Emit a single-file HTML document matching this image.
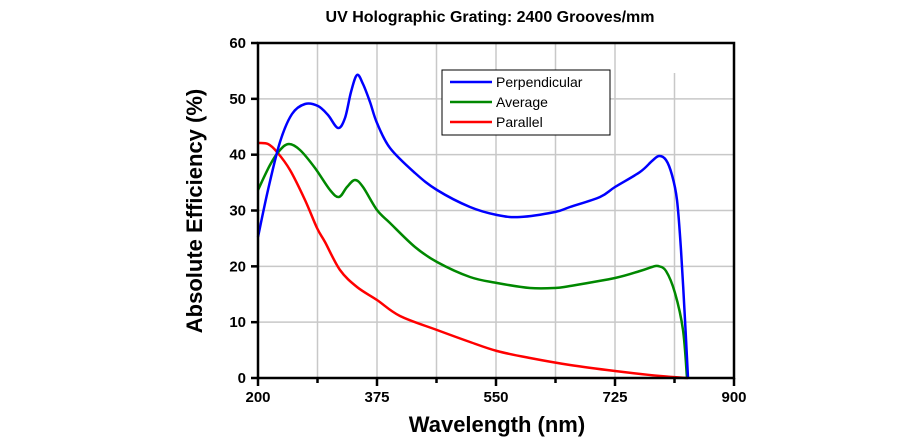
<!DOCTYPE html>
<html><head><meta charset="utf-8"><style>body{margin:0;background:#fff}svg{display:block}</style></head>
<body>
<svg id="s" width="924" height="440" xmlns="http://www.w3.org/2000/svg" font-family="Liberation Sans, Arial, sans-serif">
<rect width="924" height="440" fill="#fff"/>
<g id="grid" stroke="#c8c8c8" stroke-width="1.5"></g>
<g id="curves" fill="none" stroke-width="2.5" stroke-linejoin="round"></g>
<rect x="258" y="43" width="476" height="335" fill="none" stroke="#000" stroke-width="2.5"/>
<g id="ticks" stroke="#000" stroke-width="2.5"></g>
<g id="labels" font-weight="bold" font-size="15" fill="#000"></g>
<text x="490" y="22" text-anchor="middle" font-weight="bold" font-size="16">UV Holographic Grating: 2400 Grooves/mm</text>
<text x="497" y="432" text-anchor="middle" font-weight="bold" font-size="22">Wavelength (nm)</text>
<text transform="translate(202,211) rotate(-90)" text-anchor="middle" font-weight="bold" font-size="22">Absolute Efficiency (%)</text>
<rect x="442" y="70" width="168" height="65" fill="#fff" stroke="#000" stroke-width="1"/>
<line x1="450" y1="82" x2="492" y2="82" stroke="#00f" stroke-width="2.5"/>
<line x1="450" y1="102" x2="492" y2="102" stroke="#080" stroke-width="2.5"/>
<line x1="450" y1="122" x2="492" y2="122" stroke="#f00" stroke-width="2.5"/>
<text x="496" y="87" font-size="14">Perpendicular</text>
<text x="496" y="107" font-size="14">Average</text>
<text x="496" y="127" font-size="14">Parallel</text>
</svg>
<script>
const X=n=>258+(n-200)*0.68, Y=v=>378-v*5.583, NS="http://www.w3.org/2000/svg";
function el(p,t,a){const e=document.createElementNS(NS,t);for(const k in a)e.setAttribute(k,a[k]);document.getElementById(p).appendChild(e);return e;}
for(let i=1;i<8;i++){const x=X(200+i*87.5);el('grid','line',{x1:x,y1:i==7?73:43,x2:x,y2:378});}
for(let v=10;v<60;v+=10){el('grid','line',{x1:258,y1:Y(v),x2:734,y2:Y(v)});}
for(let i=0;i<=8;i++){const x=X(200+i*87.5);el('ticks','line',{x1:x,y1:378,x2:x,y2:i%2?383:386});}
for(let v=0;v<=60;v+=10){el('ticks','line',{x1:251,y1:Y(v),x2:258,y2:Y(v)});
 const t=el('labels','text',{x:246,y:Y(v)+5,'text-anchor':'end'});t.textContent=v;}
[200,375,550,725,900].forEach(n=>{const t=el('labels','text',{x:X(n),y:402,'text-anchor':'middle'});t.textContent=n;});
const B=[[258,237],[268,190],[280,142],[292,114],[305,104],[318,106],[328,115],[338,128],[345,118],[351,92],[357,75],[363,84],[370,102],[377,123],[390,148],[415,173],[437,190],[470,207],[497,215],[520,217],[555,212],[570,207],[600,197],[615,187],[640,172],[652,161],[659,156],[666,160],[672,175],[677,200],[681,250],[685,320],[688,378]];
const G=[[258,190],[270,165],[280,150],[289,144],[300,150],[315,168],[330,190],[339,197],[347,187],[355,180],[363,187],[377,210],[390,223],[415,247],[437,262],[470,277],[497,283],[530,288],[555,288],[570,286],[615,278],[640,271],[652,267],[658,266],[666,271],[675,293],[683,330],[687,378]];
const R=[[258,143],[268,144],[277,152],[290,170],[305,200],[317,228],[325,242],[340,270],[357,287],[377,300],[400,316],[437,330],[470,342],[497,351],[530,358],[570,365],[615,371],[660,376],[688,378]];
function path(p){let s=`M${p[0][0]},${p[0][1]}`;
 for(let i=0;i<p.length-1;i++){const a=p[Math.max(0,i-1)],b=p[i],c=p[i+1],e=p[Math.min(p.length-1,i+2)];
 s+=` C${b[0]+(c[0]-a[0])/6},${b[1]+(c[1]-a[1])/6} ${c[0]-(e[0]-b[0])/6},${c[1]-(e[1]-b[1])/6} ${c[0]},${c[1]}`;}return s;}
el('curves','path',{d:path(R),stroke:'#f00'});
el('curves','path',{d:path(G),stroke:'#080'});
el('curves','path',{d:path(B),stroke:'#00f'});
</script>
</body></html>
